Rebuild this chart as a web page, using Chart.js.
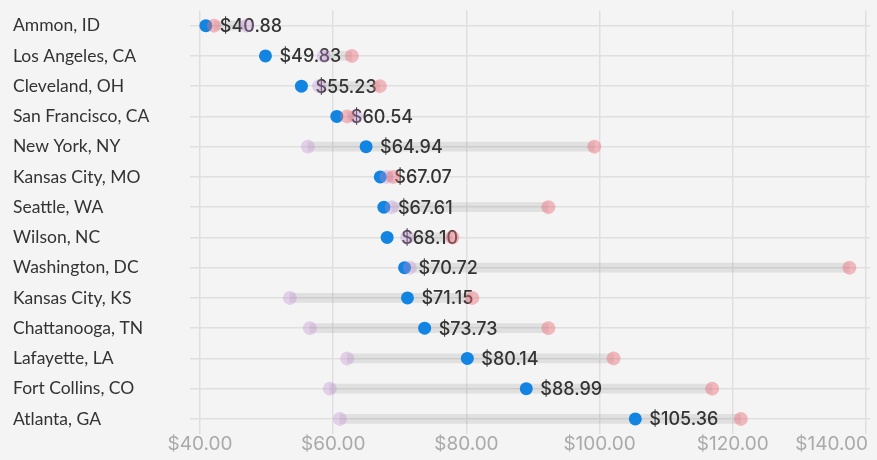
<html><head></head>
<body style="margin:0;background:#f4f4f4">
<script src="https://cdn.jsdelivr.net/npm/chart.js@4"></script>
<canvas id="myChart" width="877" height="460"></canvas>
<script>
cities = ['Ammon, ID', 'Los Angeles, CA', 'Cleveland, OH', 'San Francisco, CA', 'New York, NY',
  'Kansas City, MO', 'Seattle, WA', 'Wilson, NC', 'Washington, DC', 'Kansas City, KS',
  'Chattanooga, TN', 'Lafayette, LA', 'Fort Collins, CO', 'Atlanta, GA'];
price = [40.88, 49.83, 55.23, 60.54, 64.94, 67.07, 67.61, 68.10, 70.72, 71.15, 73.73, 80.14, 88.99, 105.36];
redSeries = [42.1, 62.8, 67.0, 62.1, 99.2, 69.0, 92.3, 77.9, 137.5, 80.9, 92.3, 102.1, 116.9, 121.2];
purpleSeries = [47.0, 58.6, 57.9, 63.4, 56.2, 68.0, 68.8, 71.1, 71.5, 53.5, 56.5, 62.1, 59.5, 61.0];
xTicks = [40, 60, 80, 100, 120, 140];

Chart.defaults.font.family = 'Lato';
Chart.defaults.font.size = 17.5;

labelPlugin = {
  id: 'labels',
  afterDatasetDraw(chart, args) {
    if (args.index != 1) return;
    ctx = chart.ctx;
    xs = chart.scales.x;
    ys = chart.scales.y;
    ctx.save();
    ctx.font = '500 18px Inter';
    ctx.fillStyle = '#333';
    ctx.textAlign = 'left';
    ctx.textBaseline = 'middle';
    for (let i = 0; i < price.length; i++) {
      ctx.fillText('$' + price[i].toFixed(2), xs.getPixelForValue(price[i]) + 14, ys.getPixelForValue(i) + 1);
    }
    ctx.restore();
  },
  afterDraw(chart) {
    ctx = chart.ctx;
    xs = chart.scales.x;
    ctx.save();
    ctx.font = '19px Inter';
    ctx.fillStyle = '#aaa';
    ctx.textAlign = 'left';
    ctx.textBaseline = 'middle';
    xTicks.forEach(v => {
      txt = '$' + v.toFixed(2);
      w = ctx.measureText(txt).width;
      left = Math.min(xs.getPixelForValue(v) - w / 2, chart.width - w - 9);
      ctx.fillText(txt, left, 444);
    });
    ctx.restore();
  }
};

ctx = document.getElementById('myChart').getContext('2d');
myChart = new Chart(ctx, {
  type: 'bar',
  data: {
    labels: cities,
    datasets: [{
      type: 'bar',
      data: cities.map((c, i) => [purpleSeries[i], redSeries[i]]),
      backgroundColor: 'rgba(0,0,0,0.08)',
      barThickness: 9,
      order: 4
    }, {
      type: 'line',
      data: price,
      showLine: false,
      pointRadius: 6.5,
      pointHoverRadius: 6.5,
      pointBackgroundColor: '#1284e2',
      pointBorderWidth: 0,
      order: 3
    }, {
      type: 'line',
      data: purpleSeries,
      showLine: false,
      pointRadius: 7,
      pointHoverRadius: 7,
      pointBackgroundColor: 'rgba(190,140,210,0.35)',
      pointBorderWidth: 0,
      order: 2
    }, {
      type: 'line',
      data: redSeries,
      showLine: false,
      pointRadius: 7,
      pointHoverRadius: 7,
      pointBackgroundColor: 'rgba(235,110,120,0.45)',
      pointBorderWidth: 0,
      order: 1
    }]
  },
  options: {
    indexAxis: 'y',
    responsive: false,
    animation: false,
    layout: { padding: { left: 13, top: 10, right: 0, bottom: 0 } },
    plugins: { legend: { display: false }, tooltip: { enabled: false } },
    scales: {
      x: {
        min: 38.5,
        max: 140.6,
        afterBuildTicks: s => { s.ticks = xTicks.map(v => ({ value: v })); },
        afterFit: s => { s.height = 26; },
        ticks: { display: false },
        grid: { color: '#dfdfdf', lineWidth: 1.5, drawTicks: false },
        border: { display: false }
      },
      y: {
        afterFit: s => { s.width = 177; },
        ticks: { color: '#333', crossAlign: 'far', padding: 0 },
        grid: { color: '#dfdfdf', lineWidth: 1.5, drawTicks: false, offset: false },
        border: { display: false }
      }
    }
  },
  plugins: [labelPlugin]
});
</script>
</body>
</html>
